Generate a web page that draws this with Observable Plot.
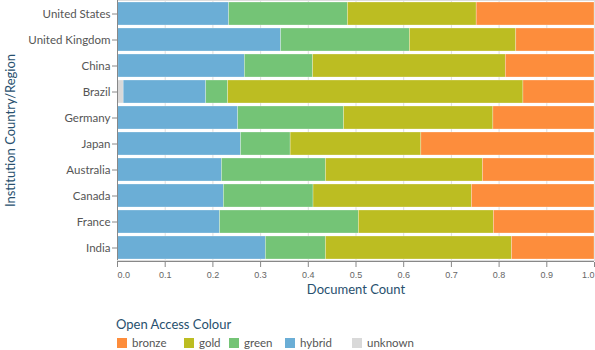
<!DOCTYPE html>
<html>
<head>
<meta charset="utf-8">
<script src="https://cdn.jsdelivr.net/npm/d3@7"></script>
<script src="https://cdn.jsdelivr.net/npm/@observablehq/plot@0.6"></script>
<style>
  body { margin: 0; background: #fff; font-family: Lato, sans-serif; }
  #wrap { position: relative; width: 595px; height: 350px; }
  #legend { position: absolute; left: 116px; top: 316px; width: 420px; height: 34px; }
  #legend .title { font-size: 13px; color: #28506e; }
  #legend .item { position: absolute; top: 20px; display: flex; align-items: center; font-size: 11.5px; color: #555; white-space: nowrap; }
  #legend .sw { width: 10px; height: 10px; margin-right: 5px; }
</style>
</head>
<body>
<div id="wrap"><div id="chart"></div><div id="legend"></div></div>
<script>
const countries = ["United States","United Kingdom","China","Brazil","Germany","Japan","Australia","Canada","France","India"];
const series = ["unknown","hybrid","green","gold","bronze"];
const legendOrder = ["bronze","gold","green","hybrid","unknown"];
const colors = {bronze:"#fd8d3c", gold:"#bcbd22", green:"#74c476", hybrid:"#6baed6", unknown:"#d9d9d9"};
// shares per country, in order of countries
const unknown = [0, 0, 0.002, 0.013, 0, 0, 0, 0, 0, 0];
const hybrid  = [0.234, 0.343, 0.265, 0.173, 0.253, 0.259, 0.219, 0.223, 0.215, 0.311];
const green   = [0.249, 0.270, 0.143, 0.046, 0.222, 0.104, 0.218, 0.188, 0.291, 0.126];
const gold    = [0.270, 0.223, 0.404, 0.619, 0.313, 0.274, 0.329, 0.332, 0.283, 0.390];
const bronze  = [0.247, 0.164, 0.186, 0.149, 0.212, 0.363, 0.234, 0.257, 0.211, 0.173];
const xTicks = [0,0.1,0.2,0.3,0.4,0.5,0.6,0.7,0.8,0.9,1.0];
const legendX = [1, 68, 113, 169, 236];

const valuesBy = {unknown, hybrid, green, gold, bronze};
const data = [];
countries.forEach((c, i) => series.forEach(s => data.push({country: c, colour: s, value: valuesBy[s][i]})));

const axisStyle = {tickSize: 5, tickFormat: d3.format(".1f"), fontSize: 9, fontFamily: "Liberation Sans, sans-serif", fill: "#666", stroke: "#888", tickPadding: 4, label: null, dy: 2};

const chart = Plot.plot({
  width: 595, height: 300,
  marginLeft: 117, marginRight: 1, marginTop: 0, marginBottom: 40,
  style: {fontFamily: "Lato, sans-serif", background: "transparent"},
  x: {domain: [0, 1], label: null},
  y: {domain: countries, paddingInner: 0.13, paddingOuter: 0.065, label: null},
  color: {domain: series, range: series.map(s => colors[s])},
  marks: [
    Plot.gridX(xTicks, {stroke: "#ddd", strokeOpacity: 1}),
    Plot.frame({stroke: "#ddd"}),
    Plot.barX(data, Plot.stackX({x: "value", y: "country", fill: "colour", order: series, stroke: "white", strokeOpacity: 0.45, strokeWidth: 0.6})),
    Plot.axisX(xTicks.slice(0, 1), {...axisStyle, textAnchor: "start"}),
    Plot.axisX(xTicks.slice(1, -1), {...axisStyle}),
    Plot.axisX(xTicks.slice(-1), {...axisStyle, textAnchor: "end"}),
    Plot.axisY({tickSize: 5, fontSize: 11.5, fill: "#555", stroke: "#888", tickPadding: 2, label: null}),
    Plot.ruleX([0], {stroke: "#888"}),
    Plot.text(["Document Count"], {frameAnchor: "bottom", dy: 33, fontSize: 13, fill: "#28506e"}),
    Plot.text(["Institution Country/Region"], {frameAnchor: "left", textAnchor: "middle", rotate: -90, dx: -107, fontSize: 13, fill: "#28506e"})
  ]
});
document.getElementById("chart").appendChild(chart);
// bottom axis line
d3.select(chart).append("line").attr("x1", 117).attr("x2", 594).attr("y1", 261.5).attr("y2", 261.5).attr("stroke", "#888");

const lg = document.getElementById("legend");
lg.innerHTML = `<div class="title">Open Access Colour</div>` +
  legendOrder.map((s, i) => `<div class="item" style="left:${legendX[i]}px"><div class="sw" style="background:${colors[s]}"></div><span>${s}</span></div>`).join("");
</script>
</body>
</html>
